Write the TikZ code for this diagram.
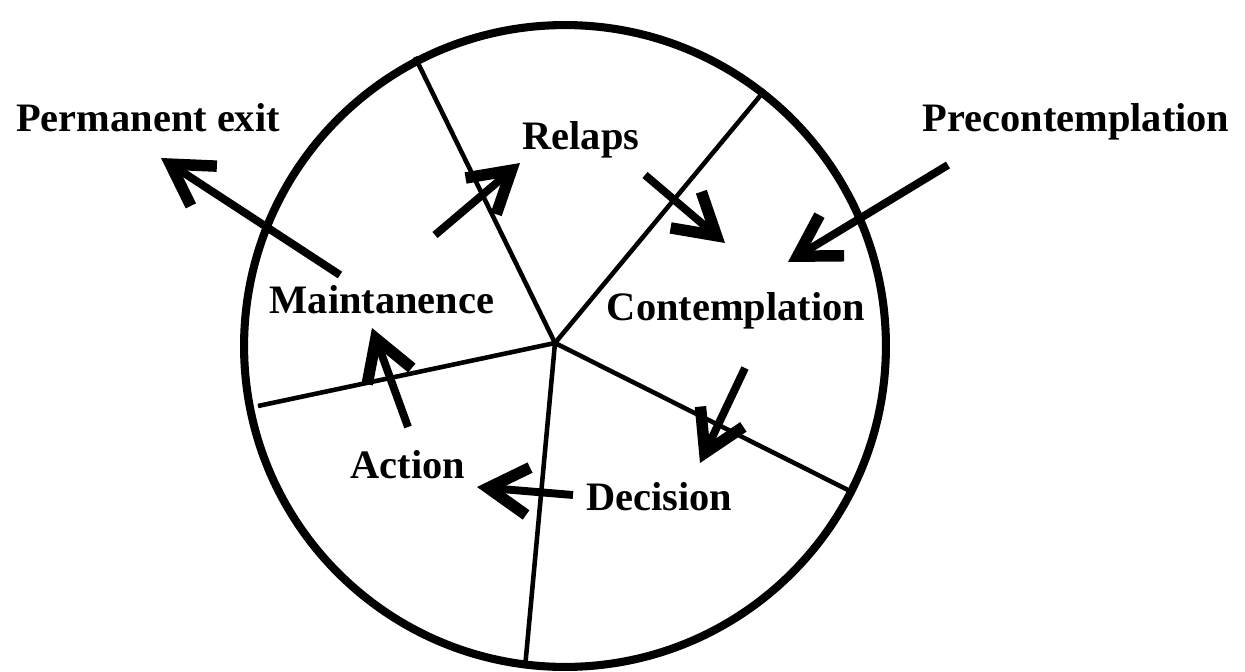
\documentclass[tikz,border=0pt]{standalone}
\usepackage{fontspec}
\setmainfont{Liberation Serif}
\usepackage{tikz}
\usetikzlibrary{positioning, arrows.meta}
\tikzstyle{stage}=[%
      draw=none, fill=none, inner sep=0pt, font=\fontsize{23}{27}\selectfont\bfseries
]
\tikzstyle{move}=[%
      line width=4.5pt, -{Straight Barb[length=0.8cm, width=0.95cm, line width=0pt 1.45]}
]
\tikzstyle{spoke}=[%
      line width=2.6pt
]
\begin{document}
\begin{tikzpicture}[x=0.02cm, y=-0.02cm]
    \useasboundingbox (0,0) rectangle (1245,672);
    % wheel
    \coordinate (mid) at (565,346);
    \coordinate (hub) at (555,343);
    \draw[line width=4.6pt] (mid) circle [radius=6.42cm];
    \coordinate (rimA) at (415,57);
    \coordinate (rimB) at (765,90);
    \coordinate (rimC) at (852,492);
    \coordinate (rimD) at (525,668);
    \coordinate (rimE) at (258,406);
    \foreach \r in {rimA, rimB, rimC, rimD, rimE}
      \draw[spoke] (hub) -- (\r);

    % labels
    \node[stage] (exit)    at (148,118)  {Permanent exit};
    \node[stage] (precon)  at (1076,122) {Precontemplation};
    \node[stage] (relaps)  at (581,140)  {Relaps};
    \node[stage] (maint)   at (382,300)  {Maintanence};
    \node[stage] (contemp) at (736,311)  {Contemplation};
    \node[stage] (action)  at (408,465)  {Action};
    \node[stage] (decis)   at (659,497)  {Decision};

    % arrow ends
    \coordinate (exitS)   at (340,275);  \coordinate (exitT)   at (161,158);
    \coordinate (relapsS) at (435,235);  \coordinate (relapsT) at (520,163);
    \coordinate (backS)   at (645,175);  \coordinate (backT)   at (725,243);
    \coordinate (preS)    at (948,165);  \coordinate (preT)    at (788,262);
    \coordinate (decS)    at (745,368);  \coordinate (decT)    at (700,463);
    \coordinate (actS)    at (573,495);  \coordinate (actT)    at (477,487);
    \coordinate (maintS)  at (408,427);  \coordinate (maintT)  at (372,328);

    \draw[move] (exitS) -- (exitT);
    \draw[move] (relapsS) -- (relapsT);
    \draw[move] (backS) -- (backT);
    \draw[move] (preS) -- (preT);
    \draw[move] (decS) -- (decT);
    \draw[move] (actS) -- (actT);
    \draw[move] (maintS) -- (maintT);
\end{tikzpicture}
\end{document}
